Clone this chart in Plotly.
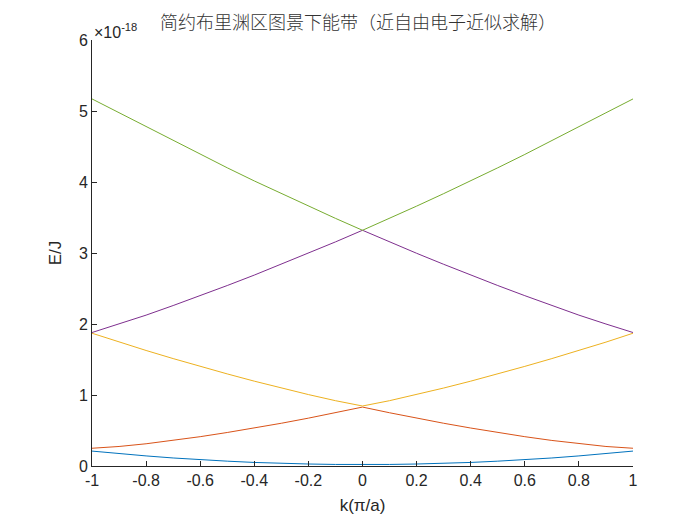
import plotly.graph_objects as go

# Wave vector k in units of pi/a
k = [-1.0, -0.9, -0.8, -0.7, -0.6, -0.5, -0.4, -0.3, -0.2, -0.1, 0.0,
     0.1, 0.2, 0.3, 0.4, 0.5, 0.6, 0.7, 0.8, 0.9, 1.0]

# Band energies in units of 1e-18 J
band1 = [0.210, 0.174, 0.142, 0.113, 0.088, 0.068, 0.050, 0.037, 0.028, 0.022, 0.020,
         0.022, 0.028, 0.037, 0.050, 0.068, 0.088, 0.113, 0.142, 0.174, 0.210]
band2 = [0.250, 0.275, 0.313, 0.360, 0.413, 0.472, 0.535, 0.602, 0.674, 0.750, 0.830,
         0.750, 0.674, 0.602, 0.535, 0.472, 0.413, 0.360, 0.313, 0.275, 0.250]
band3 = [1.870, 1.745, 1.627, 1.513, 1.403, 1.297, 1.195, 1.098, 1.006, 0.920, 0.845,
         0.920, 1.006, 1.098, 1.195, 1.297, 1.403, 1.513, 1.627, 1.745, 1.870]
band4 = [1.880, 2.000, 2.125, 2.260, 2.399, 2.542, 2.689, 2.841, 2.996, 3.156, 3.320,
         3.156, 2.996, 2.841, 2.689, 2.542, 2.399, 2.260, 2.125, 2.000, 1.880]
band5 = [5.170, 4.975, 4.776, 4.580, 4.388, 4.200, 4.015, 3.836, 3.660, 3.488, 3.320,
         3.488, 3.660, 3.836, 4.015, 4.200, 4.388, 4.580, 4.776, 4.975, 5.170]

bands = [band1, band2, band3, band4, band5]
colors = ["#0072BD", "#D95319", "#EDB120", "#7E2F8E", "#77AC30"]

x_ticks = [-1, -0.8, -0.6, -0.4, -0.2, 0, 0.2, 0.4, 0.6, 0.8, 1]
x_tick_labels = ["-1", "-0.8", "-0.6", "-0.4", "-0.2", "0", "0.2", "0.4", "0.6", "0.8", "1"]
y_ticks = [0, 1, 2, 3, 4, 5, 6]
y_tick_labels = ["0", "1", "2", "3", "4", "5", "6"]

title_text = "简约布里渊区图景下能带（近自由电子近似求解）"
axis_color = "#262626"
font_family = "Liberation Sans, Arial, sans-serif"
cjk_font = "Noto Sans CJK SC, sans-serif"

fig = go.Figure()
for b, c in zip(bands, colors):
    fig.add_trace(go.Scatter(x=k, y=b, mode="lines",
                             line=dict(color=c, width=1), showlegend=False,
                             hoverinfo="skip"))

fig.update_layout(
    width=700, height=525,
    paper_bgcolor="white", plot_bgcolor="white",
    margin=dict(l=84, r=75, t=32, b=67),
    font=dict(family=font_family, color=axis_color, size=16),
    title=dict(text=title_text, x=0.5, xanchor="center", y=0.972, yanchor="middle",
               font=dict(family=cjk_font, size=18, color="#333333", weight=300)),
    xaxis=dict(range=[-1, 1], tickvals=x_ticks, ticktext=x_tick_labels,
               ticks="inside", ticklen=5, tickcolor=axis_color,
               showline=True, linecolor=axis_color, linewidth=1,
               showgrid=False, zeroline=False, mirror=False,
               title=dict(text="k(π/a)", font=dict(size=17), standoff=10),
               tickfont=dict(size=16)),
    yaxis=dict(range=[0, 6], tickvals=y_ticks, ticktext=y_tick_labels,
               ticks="inside", ticklen=5, tickcolor=axis_color,
               showline=True, linecolor=axis_color, linewidth=1,
               showgrid=False, zeroline=False, mirror=False,
               title=dict(text="E/J", font=dict(size=17), standoff=12),
               tickfont=dict(size=16)),
)

fig.add_annotation(text="×10<sup>-18</sup>", xref="paper", yref="paper",
                   x=0.0, y=1.0, xanchor="left", yanchor="bottom", yshift=-3,
                   showarrow=False, font=dict(size=16, color=axis_color))

fig.write_html("out.html")
